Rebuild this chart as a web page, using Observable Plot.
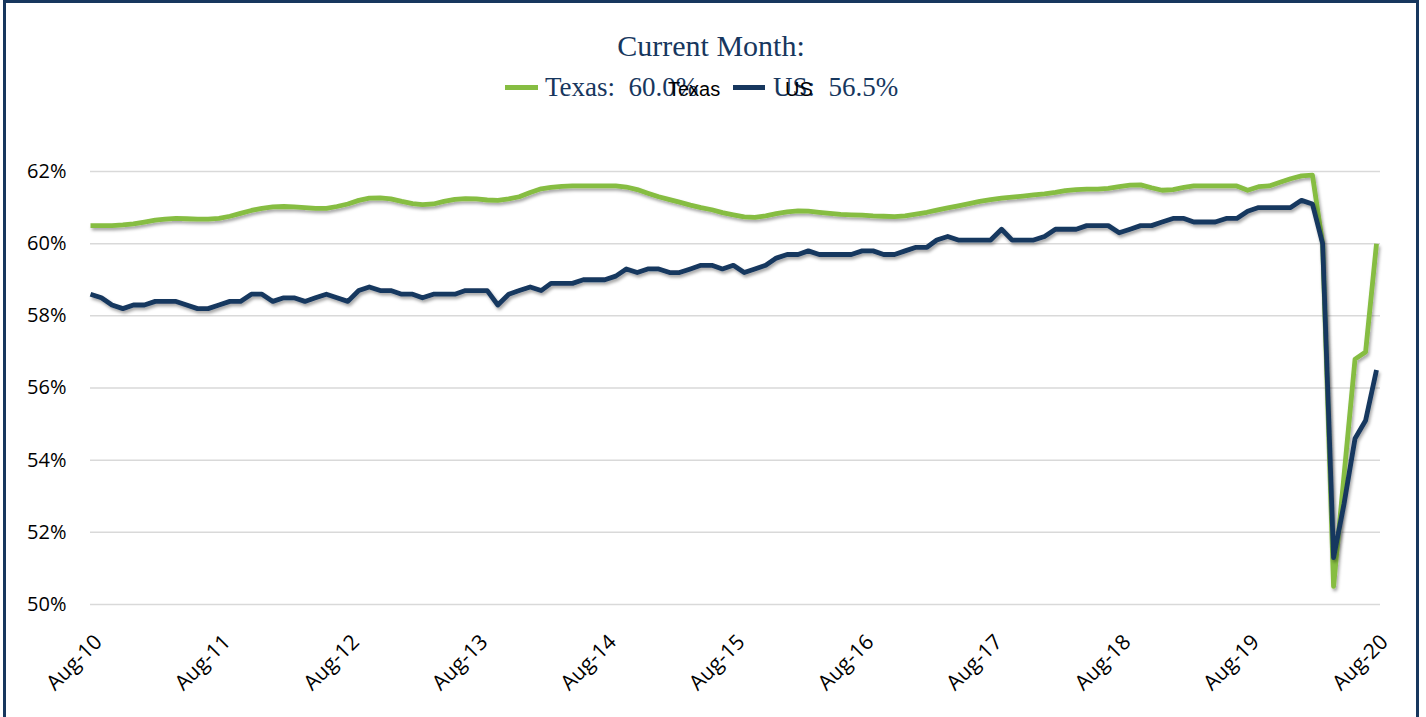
<!DOCTYPE html>
<html>
<head>
<meta charset="utf-8">
<script src="https://cdn.jsdelivr.net/npm/d3@7"></script>
<script src="https://cdn.jsdelivr.net/npm/@observablehq/plot@0.6"></script>
<style>
  html, body { margin: 0; padding: 0; background: #fff; }
  body { width: 1426px; height: 717px; overflow: hidden; position: relative; }
  #frame { position: absolute; left: 3px; top: 0; width: 1410px; height: 800px;
           border: 3px solid #17375e; border-bottom: none; pointer-events: none; }
  #header { position: relative; height: 130px; }
  .t { position: absolute; white-space: pre; line-height: 1; }
  .serif { font-family: "Liberation Serif", "DejaVu Serif", serif; color: #17375e; }
  .sans { font-family: "Liberation Sans", Arial, sans-serif; color: #000; font-size: 20px; }
  .sw { position: absolute; height: 5px; }
</style>
</head>
<body>
<div id="header">
  <div class="t serif" style="left:0;width:1422px;text-align:center;top:31px;font-size:30px;">Current Month:</div>
  <div class="sw" id="swTX" style="left:505px;top:85px;width:33px;"></div>
  <div class="t serif" id="lgTX" style="left:545px;top:74px;font-size:27px;"></div>
  <div class="t sans" id="lgTX2" style="left:668px;top:79px;"></div>
  <div class="sw" id="swUS" style="left:733px;top:85px;width:32px;"></div>
  <div class="t serif" id="lgUS" style="left:773px;top:74px;font-size:27px;"></div>
  <div class="t sans" id="lgUS2" style="left:785px;top:79px;"></div>
</div>
<div id="chart"></div>
<div id="frame"></div>
<script>
// ---- data ----
const seriesNames = ["Texas", "US"];
const seriesColors = ["#86bd42", "#17375e"];
const startMonth = "2010-08-01";
const endMonth = "2020-08-01";
const yTicks = [50, 52, 54, 56, 58, 60, 62];

const texas = [
  60.5, 60.5, 60.5, 60.52, 60.55, 60.6, 60.65, 60.68, 60.7, 60.69, 60.68, 60.68,
  60.7, 60.76, 60.84, 60.92, 60.98, 61.02, 61.03, 61.02, 61.0, 60.98, 60.98, 61.03,
  61.1, 61.2, 61.26, 61.27, 61.24, 61.17, 61.11, 61.08, 61.1, 61.17, 61.23, 61.25,
  61.24, 61.21, 61.2, 61.24, 61.3, 61.42, 61.52, 61.56, 61.59, 61.6, 61.6, 61.6,
  61.6, 61.6, 61.57, 61.5, 61.4, 61.3, 61.22, 61.15, 61.07, 61.0, 60.94, 60.86,
  60.8, 60.74, 60.73, 60.77, 60.83, 60.88, 60.91, 60.9, 60.87, 60.84, 60.81, 60.8,
  60.79, 60.77, 60.76, 60.75, 60.77, 60.82, 60.87, 60.93, 60.99, 61.05, 61.11, 61.17,
  61.22, 61.26, 61.29, 61.32, 61.35, 61.38, 61.42, 61.47, 61.5, 61.51, 61.51, 61.53,
  61.58, 61.62, 61.63, 61.55, 61.48, 61.5, 61.56, 61.6, 61.6, 61.6, 61.6, 61.6,
  61.48, 61.58, 61.6, 61.7, 61.8, 61.88, 61.9, 60.0, 50.5, 53.6, 56.8, 57.0,
  60.0
];

const us = [
  58.6, 58.5, 58.3, 58.2, 58.3, 58.3, 58.4, 58.4, 58.4, 58.3, 58.2, 58.2,
  58.3, 58.4, 58.4, 58.6, 58.6, 58.4, 58.5, 58.5, 58.4, 58.5, 58.6, 58.5,
  58.4, 58.7, 58.8, 58.7, 58.7, 58.6, 58.6, 58.5, 58.6, 58.6, 58.6, 58.7,
  58.7, 58.7, 58.3, 58.6, 58.7, 58.8, 58.7, 58.9, 58.9, 58.9, 59.0, 59.0,
  59.0, 59.1, 59.3, 59.2, 59.3, 59.3, 59.2, 59.2, 59.3, 59.4, 59.4, 59.3,
  59.4, 59.2, 59.3, 59.4, 59.6, 59.7, 59.7, 59.8, 59.7, 59.7, 59.7, 59.7,
  59.8, 59.8, 59.7, 59.7, 59.8, 59.9, 59.9, 60.1, 60.2, 60.1, 60.1, 60.1,
  60.1, 60.4, 60.1, 60.1, 60.1, 60.2, 60.4, 60.4, 60.4, 60.5, 60.5, 60.5,
  60.3, 60.4, 60.5, 60.5, 60.6, 60.7, 60.7, 60.6, 60.6, 60.6, 60.7, 60.7,
  60.9, 61.0, 61.0, 61.0, 61.0, 61.2, 61.1, 60.0, 51.3, 52.8, 54.6, 55.1,
  56.5
];

// ---- build ----
const start = new Date(startMonth + "T00:00:00Z");
const end = new Date(endMonth + "T00:00:00Z");
const months = d3.utcMonth.range(start, d3.utcMonth.offset(end, 1));
const tickDates = months.filter((d, i) => i % 12 === 0);

const rows = [];
[texas, us].forEach((arr, s) => {
  arr.forEach((v, i) => rows.push({ series: seriesNames[s], date: months[i], value: v }));
});

// header legend
const fmt = v => v.toFixed(1) + "%";
document.getElementById("swTX").style.background = seriesColors[0];
document.getElementById("swUS").style.background = seriesColors[1];
document.getElementById("lgTX").textContent = seriesNames[0] + ":  " + fmt(texas[texas.length - 1]);
document.getElementById("lgUS").textContent = seriesNames[1] + ":  " + fmt(us[us.length - 1]);
document.getElementById("lgTX2").textContent = seriesNames[0];
document.getElementById("lgUS2").textContent = seriesNames[1];

const chart = Plot.plot({
  width: 1426,
  height: 587,
  marginTop: 41,
  marginBottom: 113,
  marginLeft: 90,
  marginRight: 46,
  style: { fontFamily: "'Open Sans', sans-serif", fontSize: "20px", color: "#000", background: "#fff", overflow: "visible" },
  x: { type: "utc", domain: [start, end], range: [90, 1376] },
  y: { domain: [50, 62] },
  color: { domain: seriesNames, range: seriesColors },
  marks: [
    Plot.gridY(yTicks, { stroke: "#d9d9d9", strokeOpacity: 1, strokeWidth: 1.5 }),
    Plot.axisY(yTicks, { tickFormat: d => d + "%", tickSize: 0, tickPadding: 24, label: null, fontSize: 20 }),
    Plot.axisX(tickDates, {
      tickFormat: d3.utcFormat("%b-%y"), tickRotate: -45, tickSize: 0,
      tickPadding: 30, dx: 8, dy: 4, label: null, fontSize: 21
    }),
    Plot.line(rows.filter(r => r.series === seriesNames[0]), {
      x: "date", y: "value", stroke: seriesColors[0], strokeWidth: 4.8,
      strokeLinejoin: "round", strokeLinecap: "butt"
    }),
    Plot.line(rows.filter(r => r.series === seriesNames[1]), {
      x: "date", y: "value", stroke: seriesColors[1], strokeWidth: 4.8,
      strokeLinejoin: "round", strokeLinecap: "butt"
    })
  ]
});

// drop shadow like the original
const svg = d3.select(chart);
const defs = svg.insert("defs", ":first-child");
const f = defs.append("filter").attr("id", "shadow")
  .attr("x", "-5%").attr("y", "-5%").attr("width", "110%").attr("height", "120%");
f.append("feDropShadow").attr("dx", 1.5).attr("dy", 2.5).attr("stdDeviation", 1.5)
  .attr("flood-color", "#000").attr("flood-opacity", 0.35);
svg.selectAll("g[aria-label='line']").attr("filter", "url(#shadow)");

document.getElementById("chart").appendChild(chart);
</script>
</body>
</html>
